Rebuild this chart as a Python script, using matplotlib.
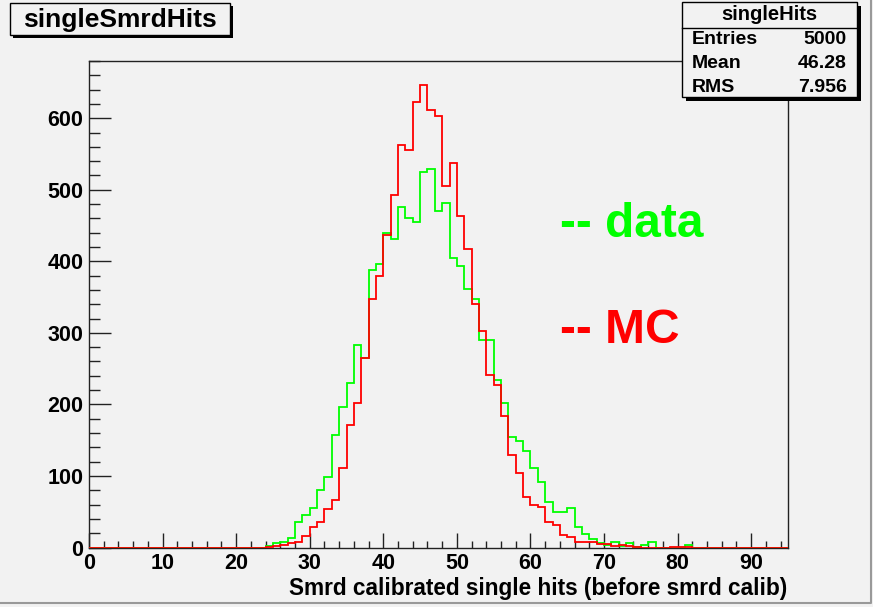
import numpy as np
import matplotlib
matplotlib.use("Agg")
import matplotlib.pyplot as plt
from matplotlib.patches import Rectangle
from matplotlib.lines import Line2D
from matplotlib.ticker import MultipleLocator

# ---------------- data ----------------
n_bins = 95
x_min, x_max = 0, 95
first_bin = 24  # bins before this are empty
data_counts = [2, 6, 8, 13, 35, 46, 55, 80, 98, 157, 196, 230, 283, 265, 388, 396,
               440, 431, 476, 460, 455, 525, 529, 471, 481, 404, 393, 362, 348, 290,
               290, 234, 202, 154, 149, 135, 111, 91, 64, 50, 50, 55, 29, 19, 12, 6,
               4, 8, 2, 6, 1, 3, 7, 0, 0, 0, 0, 3]
mc_counts = [1, 2, 4, 6, 8, 16, 29, 36, 54, 67, 111, 171, 202, 265, 348, 380,
             437, 493, 562, 556, 623, 646, 612, 603, 505, 538, 464, 417, 341, 303,
             241, 227, 184, 129, 104, 71, 60, 57, 35, 32, 17, 14, 8, 8, 8, 5,
             5, 2, 3, 2, 1, 0, 0, 0, 0, 1, 1, 1]
x_ticks = [0, 10, 20, 30, 40, 50, 60, 70, 80, 90]
y_ticks = [0, 100, 200, 300, 400, 500, 600]
title = "singleSmrdHits"
x_title = "Smrd calibrated single hits (before smrd calib)"
stats_name = "singleHits"
stats_rows = [("Entries", "5000"), ("Mean", "46.28"), ("RMS", "7.956")]
legend_items = [("-- data", "#00ff00"), ("-- MC", "#ff0000")]


def full(vals):
    arr = np.zeros(n_bins)
    arr[first_bin:first_bin + len(vals)] = vals
    return arr


edges = np.linspace(x_min, x_max, n_bins + 1)
data_h = full(data_counts)
mc_h = full(mc_counts)

# ---------------- figure ----------------
W, H = 873, 607
BG = "#f2f2f2"
FONT = "Liberation Sans"
plt.rcParams["font.family"] = [FONT, "DejaVu Sans"]
fig = plt.figure(figsize=(W / 100, H / 100), dpi=100, facecolor=BG)


def fx(px):
    return px / W


def fy(py):
    return 1 - py / H


L, R, T, B = 89, 788, 61, 547.5
ax = fig.add_axes([fx(L), fy(B), fx(R - L), (B - T) / H])
ax.set_facecolor(BG)

ax.stairs(data_h, edges, color="#00ff00", lw=1.3, zorder=3)
ax.stairs(mc_h, edges, color="#ff0000", lw=1.3, zorder=4)

ax.set_xlim(x_min, x_max)
ax.set_ylim(0, 680)
ax.set_xticks(x_ticks)
ax.set_yticks(y_ticks)
ax.xaxis.set_minor_locator(MultipleLocator(2))
ax.yaxis.set_minor_locator(MultipleLocator(20))
ax.tick_params(axis="x", which="major", direction="in", length=10.8, width=1,
               color="#222222", pad=4, labelsize=15.5)
ax.tick_params(axis="x", which="minor", direction="in", length=5, width=1,
               color="#222222")
ax.tick_params(axis="y", which="major", direction="in", length=15.8, width=1,
               color="#222222", pad=4, labelsize=15.5)
ax.tick_params(axis="y", which="minor", direction="in", length=7.9, width=1,
               color="#222222")
for lab in ax.get_xticklabels() + ax.get_yticklabels():
    lab.set_fontweight("bold")
for sp in ax.spines.values():
    sp.set_color("#222222")
    sp.set_linewidth(1)

# axis title
fig.text(fx(787), fy(589), x_title, ha="right", va="center",
         fontsize=16.3, fontweight="bold", color="black")

# legend-like texts
for (txt, col), yb in zip(legend_items, [237, 343]):
    fig.text(fx(560), fy(yb), txt, ha="left", va="baseline",
             fontsize=34.5, fontweight="bold", color=col)


def box(x0, y0, x1, y1, shadow=4, z=10):
    fig.add_artist(Rectangle((fx(x0 + shadow), fy(y1 + shadow)),
                             fx(x1 - x0), (y1 - y0) / H,
                             facecolor="black", edgecolor="none", zorder=z))
    fig.add_artist(Rectangle((fx(x0), fy(y1)), fx(x1 - x0), (y1 - y0) / H,
                             facecolor=BG, edgecolor="black", lw=1, zorder=z + 1))


# title box
box(10, 3, 230, 35, shadow=3)
fig.text(fx(120), fy(19.5), title, ha="center", va="center",
         fontsize=19, fontweight="bold", zorder=20)

# stats box
box(682, 2, 857, 97, shadow=4)
fig.add_artist(Line2D([fx(682), fx(857)], [fy(28), fy(28)], color="black",
                      lw=1, zorder=15))
fig.text(fx(769.5), fy(15), stats_name, ha="center", va="center",
         fontsize=14.5, fontweight="bold", zorder=20)
for (k, v), yc in zip(stats_rows, [40, 64, 87]):
    fig.text(fx(692), fy(yc), k, ha="left", va="center",
             fontsize=14, fontweight="bold", zorder=20)
    fig.text(fx(847), fy(yc), v, ha="right", va="center",
             fontsize=14, fontweight="bold", zorder=20)

# canvas border
fig.add_artist(Line2D([fx(0), fx(871), fx(871)], [fy(603), fy(603), fy(0)],
                      color="#999999", lw=1.5, zorder=30))

fig.savefig("out.png", dpi=100, facecolor=BG)
